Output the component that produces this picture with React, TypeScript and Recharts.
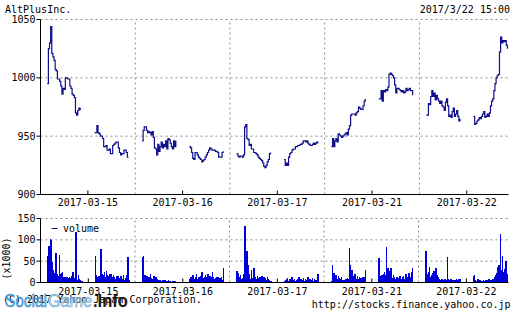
import React from 'react';
import { LineChart, Line, BarChart, Bar, XAxis, YAxis, CartesianGrid, ReferenceLine } from 'recharts';

const DAYS = ['2017-03-15', '2017-03-16', '2017-03-17', '2017-03-21', '2017-03-22'];
const PRICE_TICKS = [900, 950, 1000, 1050];
const VOLUME_TICKS = [0, 50, 100, 150];
const TITLE = 'AltPlusInc.';
const STAMP = '2017/3/22 15:00';

// 5-minute prices: 9:00-11:30 (31 values) then 12:30-15:00 (31 values)
const price0315 = [995, 1025, 1030, 1044, 1021, 1018, 1015, 1007, 1006, 999, 999, 997, 993, 986, 991, 990, 1000, 1000, 999, 999, 993, 991, 986, 985, 983, 970, 968, 972, 974, 973, 973,
  953, 953, 959, 953, 952, 950, 950, 948, 941, 941, 942, 938, 938, 939, 935, 935, 942, 943, 944, 945, 945, 940, 936, 934, 935, 935, 938, 938, 936, 932, 932];
const price0316 = [946, 955, 958, 958, 955, 953, 954, 953, 951, 954, 949, 940, 939, 934, 943, 937, 941, 945, 940, 943, 941, 946, 939, 948, 947, 944, 941, 939, 946, 941, 946,
  941, 940, 936, 931, 930, 936, 936, 934, 932, 931, 930, 928, 929, 930, 932, 934, 936, 938, 940, 939, 938, 938, 938, 937, 937, 936, 932, 932, 932, 936, 937];
const price0317 = [935, 933, 932, 933, 933, 932, 934, 958, 960, 948, 947, 942, 943, 939, 939, 936, 936, 935, 934, 932, 931, 930, 929, 927, 924, 923, 925, 928, 930, 935, 936,
  930, 925, 927, 925, 932, 935, 936, 938, 939, 939, 941, 941, 942, 942, 943, 943, 944, 946, 946, 945, 946, 944, 943, 942, 942, 943, 944, 943, 944, 945, 944];
const price0321 = [941, 948, 941, 946, 948, 945, 952, 951, 950, 949, 950, 951, 952, 953, 951, 956, 959, 968, 969, 969, 969, 968, 970, 971, 975, 974, 973, 973, 976, 980, 982,
  982, 982, 989, 980, 989, 988, 990, 989, 992, 1003, 1004, 1003, 1002, 1000, 994, 987, 991, 991, 990, 989, 988, 989, 987, 988, 991, 989, 990, 991, 989, 989, 985];
const price0322 = [968, 968, 978, 977, 984, 989, 984, 987, 981, 985, 982, 980, 978, 980, 976, 975, 972, 979, 982, 976, 967, 968, 966, 971, 974, 967, 969, 972, 967, 963, 965,
  967, 960, 961, 963, 964, 966, 965, 967, 969, 971, 966, 967, 969, 967, 970, 976, 980, 982, 989, 995, 1000, 1002, 1003, 1022, 1035, 1030, 1032, 1031, 1032, 1028, 1025];

// 5-minute volumes (x1000), same sessions
const volume0315 = [63, 86, 102, 100, 48, 30, 22, 70, 20, 15, 65, 20, 22, 25, 12, 14, 10, 13, 10, 14, 11, 16, 25, 10, 8, 118, 5, 17, 8, 7, 4,
  62, 18, 12, 16, 15, 79, 20, 18, 25, 13, 28, 17, 15, 20, 20, 12, 18, 14, 8, 16, 15, 11, 10, 15, 9, 17, 6, 11, 18, 60, 5];
const volume0316 = [60, 63, 17, 15, 16, 14, 12, 20, 10, 8, 15, 10, 12, 8, 6, 7, 5, 4, 6, 4, 5, 3, 4, 5, 3, 4, 2, 3, 2, 3, 2,
  9, 13, 5, 17, 8, 12, 21, 9, 14, 7, 16, 25, 10, 14, 18, 12, 21, 8, 16, 12, 24, 13, 9, 10, 14, 12, 8, 10, 12, 7, 35];
const volume0317 = [26, 22, 12, 18, 8, 10, 20, 133, 30, 73, 40, 20, 8, 29, 10, 34, 12, 8, 15, 10, 14, 12, 16, 9, 12, 10, 7, 12, 8, 5, 4,
  3, 5, 8, 11, 4, 9, 6, 13, 5, 8, 4, 7, 9, 12, 5, 8, 6, 10, 4, 8, 6, 12, 5, 8, 6, 10, 4, 9, 6, 3, 20];
const volume0321 = [3, 42, 23, 12, 18, 8, 15, 10, 8, 12, 5, 7, 5, 9, 10, 8, 80, 40, 29, 10, 15, 20, 9, 15, 8, 13, 10, 9, 12, 14, 30,
  57, 15, 10, 18, 20, 25, 18, 83, 34, 20, 28, 35, 10, 18, 12, 8, 14, 6, 10, 15, 8, 12, 16, 8, 20, 13, 10, 22, 14, 25, 34];
const volume0322 = [73, 20, 25, 36, 12, 17, 22, 28, 10, 33, 18, 12, 8, 6, 9, 7, 5, 8, 6, 60, 9, 5, 8, 6, 4, 7, 5, 8, 6, 9, 8,
  15, 17, 6, 4, 8, 3, 5, 3, 4, 6, 3, 5, 7, 4, 8, 6, 5, 9, 8, 14, 18, 22, 36, 40, 113, 30, 61, 25, 32, 51, 20];

const PRICES = [price0315, price0316, price0317, price0321, price0322];
const VOLUMES = [volume0315, volume0316, volume0317, volume0321, volume0322];

// x axis: 5-minute slots from 8:30 to 15:30 each day
const SLOTS_PER_DAY = 84;
const VISIBLE_SLOTS = 416;
const MID_SLOTS = DAYS.map((_, d) => d * SLOTS_PER_DAY + 42);
const DAY_BOUNDARIES = [1, 2, 3, 4].map((d) => d * SLOTS_PER_DAY);

function sessionIndex(s: number): number {
  if (s >= 6 && s <= 36) return s - 6;
  if (s >= 48 && s <= 78) return s - 48 + 31;
  return -1;
}

const data = Array.from({ length: VISIBLE_SLOTS }, (_, i) => {
  const d = Math.floor(i / SLOTS_PER_DAY);
  const k = sessionIndex(i % SLOTS_PER_DAY);
  return {
    slot: i,
    price: k >= 0 ? PRICES[d][k] : null,
    volume: k >= 0 ? VOLUMES[d][k] : null,
  };
});

const FONT = 'DejaVu Sans Mono';
const tickStyle = { fill: '#000', fontSize: 10, fontFamily: FONT };
const dayLabel = (v: number) => DAYS[Math.floor(v / SLOTS_PER_DAY)];
const blank = () => '';
const GRID = '#8c8c8c';
const BAR_BLUE = '#0000d8';

function CrispBar(props: any) {
  const { x, y, width, height } = props;
  if (!(height > 0) || x == null) return null;
  return <rect x={x} y={y} width={Math.max(width, 1) + 0.6} height={height} fill={BAR_BLUE} shapeRendering="crispEdges" />;
}

export default function App() {
  return (
    <div style={{ position: 'absolute', left: 0, top: 0, width: 517, height: 316, background: '#fff', fontFamily: FONT }}>
      <div style={{ position: 'absolute', left: 0, top: 0 }}>
        <LineChart width={517} height={210} data={data} margin={{ top: 19.5, right: 8.5, bottom: 0, left: 0.5 }}>
          <CartesianGrid vertical={false} stroke={GRID} strokeDasharray="2 3" />
          {DAY_BOUNDARIES.map((b) => (
            <ReferenceLine key={b} x={b} position="start" stroke={GRID} strokeDasharray="2 3" />
          ))}
          <XAxis dataKey="slot" type="category" ticks={MID_SLOTS} interval={0} tickFormatter={dayLabel}
            height={15.5} tickSize={-4} tickMargin={8.4} axisLine={{ stroke: '#000' }} tickLine={{ stroke: '#000' }} tick={tickStyle} />
          <XAxis xAxisId="top" orientation="top" dataKey="slot" type="category" ticks={MID_SLOTS} interval={0} tickFormatter={blank}
            height={0} tickSize={-4} axisLine={{ stroke: '#000' }} tickLine={{ stroke: '#000' }} tick={tickStyle} />
          <YAxis domain={[900, 1050]} ticks={PRICE_TICKS} interval={0} width={40} tickSize={4} tickMargin={1}
            axisLine={{ stroke: '#000' }} tickLine={{ stroke: '#000' }} tick={tickStyle} />
          <YAxis yAxisId="right" orientation="right" domain={[900, 1050]} ticks={PRICE_TICKS} interval={0} width={0} tickSize={3}
            tickFormatter={blank} axisLine={{ stroke: '#000' }} tickLine={{ stroke: '#000' }} tick={tickStyle} />
          <Line dataKey="price" type="stepAfter" stroke="#10108c" strokeWidth={1.2} dot={false} activeDot={false} isAnimationActive={false} />
          <Line xAxisId="top" yAxisId="right" dataKey="price" stroke="none" dot={false} activeDot={false} isAnimationActive={false} />
        </LineChart>
      </div>
      <div style={{ position: 'absolute', left: 0, top: 210 }}>
        <BarChart width={517} height={90} data={data} margin={{ top: 8.5, right: 8.5, bottom: 0, left: 0.5 }} barCategoryGap={0} barGap={0}>
          <CartesianGrid vertical={false} stroke={GRID} strokeDasharray="2 3" />
          {DAY_BOUNDARIES.map((b) => (
            <ReferenceLine key={b} x={b} position="start" stroke={GRID} strokeDasharray="2 3" />
          ))}
          <XAxis dataKey="slot" type="category" ticks={MID_SLOTS} interval={0} tickFormatter={dayLabel}
            height={17.5} tickSize={-4} tickMargin={9.4} axisLine={{ stroke: '#000' }} tickLine={{ stroke: '#000' }} tick={tickStyle} />
          <XAxis xAxisId="top" orientation="top" dataKey="slot" type="category" ticks={MID_SLOTS} interval={0} tickFormatter={blank}
            height={0} tickSize={-4} axisLine={{ stroke: '#000' }} tickLine={{ stroke: '#000' }} tick={tickStyle} />
          <YAxis domain={[0, 150]} ticks={VOLUME_TICKS} interval={0} width={40} tickSize={4} tickMargin={1}
            axisLine={{ stroke: '#000' }} tickLine={{ stroke: '#000' }} tick={tickStyle} />
          <YAxis yAxisId="right" orientation="right" domain={[0, 150]} ticks={VOLUME_TICKS} interval={0} width={0} tickSize={3}
            tickFormatter={blank} axisLine={{ stroke: '#000' }} tickLine={{ stroke: '#000' }} tick={tickStyle} />
          <Bar dataKey="volume" fill={BAR_BLUE} shape={CrispBar} isAnimationActive={false} />
          <Bar xAxisId="top" yAxisId="right" dataKey="volume" fill="none" shape={() => null} isAnimationActive={false} />
        </BarChart>
      </div>
      <svg width={517} height={316} style={{ position: 'absolute', left: 0, top: 0, pointerEvents: 'none' }}>
        <g fontFamily={FONT} fontSize={10} fill="#000">
          <text x={5} y={13}>{TITLE}</text>
          <text x={510} y={13} textAnchor="end">{STAMP}</text>
          <text transform="translate(10,258.5) rotate(-90)" textAnchor="middle">(x1000)</text>
          <line x1={51.5} x2={57.5} y1={228.5} y2={228.5} stroke="#10108c" strokeWidth={1} />
          <text x={63} y={231.7}>volume</text>
          <text x={3} y={303}>(C) 2017 Yahoo Japan Corporation.</text>
          <text x={510.5} y={307.5} textAnchor="end">http://stocks.finance.yahoo.co.jp</text>
        </g>
        <g fontFamily="Liberation Sans" fontSize={18}>
          <text x={5} y={307} fill="#4fb0e2" stroke="#2f86c2" strokeWidth={0.5} fillOpacity={0.9} textLength={42} lengthAdjust="spacingAndGlyphs">Social</text>
          <text x={48} y={307} fill="#b5d6ea" stroke="#6ea9cf" strokeWidth={0.6} fillOpacity={0.8} textLength={44} lengthAdjust="spacingAndGlyphs">Game</text>
          <text x={93} y={307} fill="#1c1c1c" fontWeight="bold" textLength={35} lengthAdjust="spacingAndGlyphs">.Info</text>
        </g>
      </svg>
    </div>
  );
}
